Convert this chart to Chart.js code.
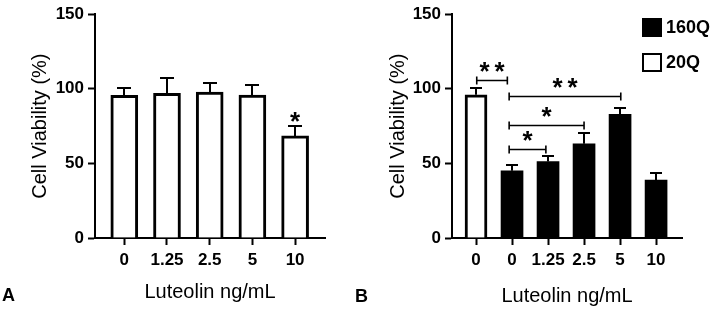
<!DOCTYPE html>
<html><head><meta charset="utf-8">
<script src="https://cdn.jsdelivr.net/npm/chart.js@4/dist/chart.umd.min.js"></script>
<style>
html,body{margin:0;padding:0;background:#fff;}
#wrap{position:relative;width:713px;height:309px;overflow:hidden;background:#fff;}
#ca{position:absolute;left:0;top:0;}
#cb{position:absolute;left:356px;top:0;}
.pl{position:absolute;font:bold 18px "Liberation Sans",Arial,sans-serif;color:#000;line-height:20px;}
</style></head><body>
<div id="wrap">
<canvas id="ca" width="356" height="309"></canvas>
<canvas id="cb" width="357" height="309"></canvas>
<div class="pl" style="left:2px;top:285px">A</div>
<div class="pl" style="left:355px;top:286px">B</div>
</div>
<script>
// ---- Data ----
const categoriesA = ['0', '1.25', '2.5', '5', '10'];
const viabilityA  = [95.6, 97.0, 97.8, 95.8, 68.4];
const errorA      = [5.1, 10.0, 6.2, 6.6, 6.4];
const starsA      = ['', '', '', '', '*'];

const categoriesB    = ['0', '0', '1.25', '2.5', '5', '10'];
const viability20Q   = [96.0, null, null, null, null, null];
const error20Q       = [4.5, null, null, null, null, null];
const viability160Q  = [null, 45.0, 51.3, 63.2, 82.9, 38.8];
const error160Q      = [null, 4.0, 3.5, 7.0, 4.4, 4.8];
const bracketFrom    = [0.02, 0.92, 0.92, 0.92];
const bracketTo      = [0.87, 4.02, 3.00, 1.94];
const bracketLevel   = [105.9, 95.4, 76.0, 59.9];
const bracketLabel   = ['**', '**', '*', '*'];

const yTicks = [0, 50, 100, 150];
const yTitle = 'Cell Viability (%)';
const xTitle = 'Luteolin ng/mL';

const FONT = '"Liberation Sans", Arial, sans-serif';

function pts(arr) {
  const out = [];
  arr.forEach((v, i) => { if (v !== null) out.push({x: i, y: v}); });
  return out;
}

function drawStarText(ctx, text, cx, cy) {
  const size = 26;
  ctx.save();
  ctx.fillStyle = '#000';
  ctx.font = 'bold ' + size + 'px ' + FONT;
  ctx.textAlign = 'center';
  ctx.textBaseline = 'alphabetic';
  const n = text.length, gap = 15;
  for (let k = 0; k < n; k++) {
    const x = cx + (k - (n - 1) / 2) * gap;
    ctx.fillText('*', x, cy + 0.57 * size);
  }
  ctx.restore();
}

function errorPlugin(errs, capHalf) {
  return {
    id: 'errbars',
    afterDatasetsDraw(chart) {
      const ctx = chart.ctx, xs = chart.scales.x, ys = chart.scales.y;
      ctx.save();
      ctx.strokeStyle = '#000';
      ctx.lineWidth = 2;
      chart.data.datasets.forEach((ds, di) => {
        const e = errs[di];
        ds.data.forEach(p => {
          const err = e[p.x];
          if (err === null || err === undefined) return;
          const x = Math.round(xs.getPixelForValue(p.x));
          const y0 = ys.getPixelForValue(p.y);
          const y1 = Math.round(ys.getPixelForValue(p.y + err));
          ctx.beginPath();
          ctx.moveTo(x, y0);
          ctx.lineTo(x, y1);
          ctx.moveTo(x - capHalf, y1);
          ctx.lineTo(x + capHalf, y1);
          ctx.stroke();
        });
      });
      ctx.restore();
    }
  };
}

function baseOptions(cats, xmin, xmax, yWidth, yTitlePad, xTitlePad, padRight, padTop) {
  return {
    responsive: false,
    animation: false,
    events: [],
    layout: { padding: { left: 0, top: padTop, right: padRight, bottom: 0 } },
    plugins: { legend: { display: false }, tooltip: { enabled: false } },
    scales: {
      x: {
        type: 'linear',
        offset: false,
        min: xmin, max: xmax,
        afterBuildTicks: s => { s.ticks = cats.map((c, i) => ({ value: i })); },
        afterFit: s => { s.height = 71; },
        ticks: {
          callback: v => cats[v],
          font: { family: FONT, size: 17, weight: 'bold' },
          color: '#000', padding: 5, autoSkip: false, maxRotation: 0
        },
        grid: { offset: false, drawOnChartArea: false, drawTicks: true, tickLength: 7, tickWidth: 2, tickColor: '#000' },
        border: { display: true, width: 2, color: '#000' },
        title: {
          display: true, text: xTitle, color: '#000',
          font: { family: FONT, size: 20 },
          padding: { top: 0, bottom: xTitlePad }
        }
      },
      y: {
        min: 0, max: 150,
        afterBuildTicks: s => { s.ticks = yTicks.map(v => ({ value: v })); },
        afterFit: s => { s.width = yWidth; },
        ticks: {
          font: { family: FONT, size: 17, weight: 'bold' },
          color: '#000', padding: 4
        },
        grid: { drawOnChartArea: false, drawTicks: true, tickLength: 7, tickWidth: 2, tickColor: '#000' },
        border: { display: true, width: 2, color: '#000' },
        title: {
          display: true, text: yTitle, color: '#000',
          font: { family: FONT, size: 20 },
          padding: { top: yTitlePad, bottom: 0 }
        }
      }
    }
  };
}

// ---- Panel A ----
const optA = baseOptions(categoriesA, -0.686, 4.70, 95, 28, 5, 31, 10);
new Chart(document.getElementById('ca'), {
  type: 'bar',
  data: {
    datasets: [{
      label: 'Luteolin',
      data: pts(viabilityA),
      backgroundColor: '#fff',
      borderColor: '#000',
      borderWidth: 3,
      barThickness: 27,
      grouped: false
    }]
  },
  options: optA,
  plugins: [
    errorPlugin([errorA], 7),
    {
      id: 'starsA',
      afterDatasetsDraw(chart) {
        const xs = chart.scales.x, ys = chart.scales.y;
        starsA.forEach((s, i) => {
          if (!s) return;
          const x = xs.getPixelForValue(i);
          const y = ys.getPixelForValue(viabilityA[i] + errorA[i]) - 11;
          drawStarText(chart.ctx, s, x, y);
        });
      }
    }
  ]
});

// ---- Panel B ----
const optB = baseOptions(categoriesB, -0.667, 5.72, 96, 30, 1, 31, 12);
new Chart(document.getElementById('cb'), {
  type: 'bar',
  data: {
    datasets: [
      {
        label: '160Q',
        data: pts(viability160Q),
        backgroundColor: '#000',
        borderColor: '#000',
        borderWidth: 0,
        barThickness: 22,
        grouped: false
      },
      {
        label: '20Q',
        data: pts(viability20Q),
        backgroundColor: '#fff',
        borderColor: '#000',
        borderWidth: 3,
        barThickness: 22,
        grouped: false
      }
    ]
  },
  options: optB,
  plugins: [
    errorPlugin([error160Q, error20Q], 6),
    {
      id: 'bracketsB',
      afterDatasetsDraw(chart) {
        const ctx = chart.ctx, xs = chart.scales.x, ys = chart.scales.y;
        ctx.save();
        ctx.strokeStyle = '#000';
        ctx.lineWidth = 1.6;
        bracketLevel.forEach((lv, k) => {
          const x1 = xs.getPixelForValue(bracketFrom[k]);
          const x2 = xs.getPixelForValue(bracketTo[k]);
          const y = Math.round(ys.getPixelForValue(lv)) + 0.5;
          ctx.beginPath();
          ctx.moveTo(x1, y); ctx.lineTo(x2, y);
          ctx.moveTo(x1, y - 4); ctx.lineTo(x1, y + 4);
          ctx.moveTo(x2, y - 4); ctx.lineTo(x2, y + 4);
          ctx.stroke();
          drawStarText(ctx, bracketLabel[k], (x1 + x2) / 2, y - 15);
        });
        ctx.restore();
      }
    },
    {
      id: 'legendB',
      afterDraw(chart) {
        const ctx = chart.ctx;
        ctx.save();
        chart.data.datasets.forEach((ds, i) => {
          const x = 286, y = 18 + i * 35;
          ctx.fillStyle = ds.backgroundColor;
          ctx.fillRect(x, y, 20, 19);
          ctx.strokeStyle = '#000';
          ctx.lineWidth = 2;
          ctx.strokeRect(x + 1, y + 1, 18, 17);
          ctx.fillStyle = '#000';
          ctx.font = 'bold 18px ' + FONT;
          ctx.textAlign = 'left';
          ctx.textBaseline = 'middle';
          ctx.fillText(ds.label, x + 24, y + 10);
        });
        ctx.restore();
      }
    }
  ]
});
</script>
</body></html>
